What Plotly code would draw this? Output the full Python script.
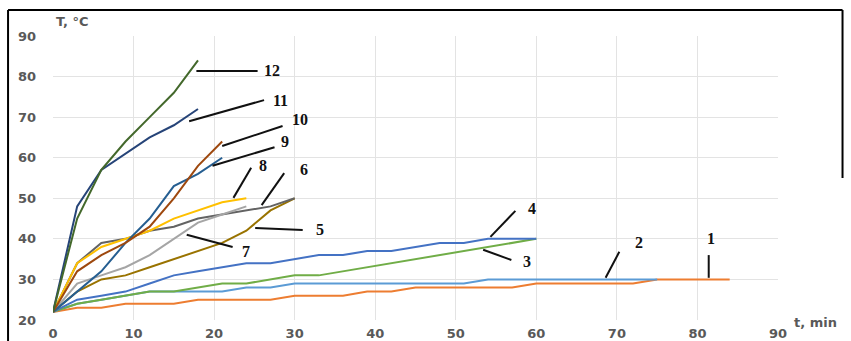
import plotly.graph_objects as go

# Heating curves: temperature T (°C) versus time t (min), readings every 3 minutes
series_names = ["1", "2", "3", "4", "5", "6", "7", "8", "9", "10", "11", "12"]

t_1 = [0, 3, 6, 9, 12, 15, 18, 21, 24, 27, 30, 33, 36, 39, 42, 45, 48, 51, 54, 57, 60, 63, 66, 69, 72, 75, 78, 81, 84]
T_1 = [22, 23, 23, 24, 24, 24, 25, 25, 25, 25, 26, 26, 26, 27, 27, 28, 28, 28, 28, 28, 29, 29, 29, 29, 29, 30, 30, 30, 30]

t_2 = [0, 3, 6, 9, 12, 15, 18, 21, 24, 27, 30, 33, 36, 39, 42, 45, 48, 51, 54, 57, 60, 63, 66, 69, 72, 75]
T_2 = [22, 24, 25, 26, 27, 27, 27, 27, 28, 28, 29, 29, 29, 29, 29, 29, 29, 29, 30, 30, 30, 30, 30, 30, 30, 30]

t_3 = [0, 3, 6, 9, 12, 15, 18, 21, 24, 27, 30, 33, 36, 39, 42, 45, 48, 51, 54, 57, 60]
T_3 = [22, 24, 25, 26, 27, 27, 28, 29, 29, 30, 31, 31, 32, 33, 34, 35, 36, 37, 38, 39, 40]

t_4 = [0, 3, 6, 9, 12, 15, 18, 21, 24, 27, 30, 33, 36, 39, 42, 45, 48, 51, 54, 57, 60]
T_4 = [22, 25, 26, 27, 29, 31, 32, 33, 34, 34, 35, 36, 36, 37, 37, 38, 39, 39, 40, 40, 40]

t_5 = [0, 3, 6, 9, 12, 15, 18, 21, 24, 27, 30]
T_5 = [22, 27, 30, 31, 33, 35, 37, 39, 42, 47, 50]

t_6 = [0, 3, 6, 9, 12, 15, 18, 21, 24, 27, 30]
T_6 = [22, 34, 39, 40, 42, 43, 45, 46, 47, 48, 50]

t_7 = [0, 3, 6, 9, 12, 15, 18, 21, 24]
T_7 = [22, 29, 31, 33, 36, 40, 44, 46, 48]

t_8 = [0, 3, 6, 9, 12, 15, 18, 21, 24]
T_8 = [22, 34, 38, 40, 42, 45, 47, 49, 50]

t_9 = [0, 3, 6, 9, 12, 15, 18, 21]
T_9 = [22, 27, 32, 39, 45, 53, 56, 60]

t_10 = [0, 3, 6, 9, 12, 15, 18, 21]
T_10 = [22, 32, 36, 39, 43, 50, 58, 64]

t_11 = [0, 3, 6, 9, 12, 15, 18]
T_11 = [22, 48, 57, 61, 65, 68, 72]

t_12 = [0, 3, 6, 9, 12, 15, 18]
T_12 = [22, 45, 57, 64, 70, 76, 84]

series_t = [t_1, t_2, t_3, t_4, t_5, t_6, t_7, t_8, t_9, t_10, t_11, t_12]
series_T = [T_1, T_2, T_3, T_4, T_5, T_6, T_7, T_8, T_9, T_10, T_11, T_12]
series_colors = ["#ED7D31", "#5B9BD5", "#70AD47", "#4472C4", "#997300", "#636363",
                 "#A5A5A5", "#FFC000", "#255E91", "#9E480E", "#264478", "#43682B"]

x_ticks = [0, 10, 20, 30, 40, 50, 60, 70, 80, 90]
y_ticks = [20, 30, 40, 50, 60, 70, 80, 90]

# Curve number labels: leader line start, leader line end, text position (data units)
label_lines = {
    "12": ((17.8, 81.4), (25.4, 81.4), (27.2, 81.6)),
    "11": ((16.9, 69.0), (26.2, 74.2), (28.3, 74.2)),
    "10": ((21.0, 62.9), (28.5, 67.8), (30.7, 69.3)),
    "9": ((19.8, 58.0), (27.5, 62.6), (28.8, 64.1)),
    "8": ((22.4, 50.1), (24.6, 57.5), (26.1, 58.2)),
    "6": ((25.9, 48.3), (28.7, 56.2), (31.1, 57.0)),
    "5": ((25.1, 42.7), (31.0, 42.2), (33.2, 42.2)),
    "7": ((16.6, 41.0), (22.3, 38.0), (24.0, 37.0)),
    "4": ((54.3, 40.5), (57.4, 46.9), (59.4, 47.6)),
    "3": ((53.4, 37.3), (56.9, 34.8), (58.8, 34.5)),
    "2": ((68.6, 30.4), (70.3, 36.8), (72.7, 39.2)),
    "1": ((81.4, 30.4), (81.4, 36.0), (81.7, 40.0)),
}

fig = go.Figure()
for name, tv, Tv, col in zip(series_names, series_t, series_T, series_colors):
    fig.add_trace(go.Scatter(x=tv, y=Tv, mode="lines", name=name,
                             line=dict(color=col, width=2), showlegend=False))

shapes = []
annotations = []
for name, (p0, p1, ptxt) in label_lines.items():
    shapes.append(dict(type="line", xref="x", yref="y", x0=p0[0], y0=p0[1], x1=p1[0], y1=p1[1],
                       line=dict(color="#111111", width=2)))
    annotations.append(dict(x=ptxt[0], y=ptxt[1], xref="x", yref="y", text="<b>%s</b>" % name,
                            showarrow=False, xanchor="center", yanchor="middle",
                            font=dict(family="Liberation Serif", size=16, color="#111111")))

# Outer frame around the chart
shapes.append(dict(type="line", xref="paper", yref="paper", x0=-0.062, x1=-0.062, y0=-0.2, y1=1.0915,
                   line=dict(color="#000000", width=2)))
shapes.append(dict(type="line", xref="paper", yref="paper", x0=-0.062, x1=1.089, y0=1.0915, y1=1.0915,
                   line=dict(color="#000000", width=2)))
shapes.append(dict(type="line", xref="paper", yref="paper", x0=1.089, x1=1.089, y0=0.5, y1=1.0915,
                   line=dict(color="#000000", width=2)))

# Axis captions
annotations.append(dict(x=0.002, y=1.05, xref="paper", yref="paper", text="<b>T, °C</b>", showarrow=False,
                        xanchor="left", yanchor="middle",
                        font=dict(family="DejaVu Sans", size=13, color="#595959")))
annotations.append(dict(x=1.019, y=-0.01, xref="paper", yref="paper", text="<b>t, min</b>", showarrow=False,
                        xanchor="left", yanchor="middle",
                        font=dict(family="DejaVu Sans", size=13, color="#595959")))

fig.update_layout(
    width=851, height=341,
    margin=dict(l=53, r=73, t=36, b=21, autoexpand=False),
    paper_bgcolor="white", plot_bgcolor="white",
    shapes=shapes, annotations=annotations,
    xaxis=dict(range=[0, 90], tickvals=x_ticks, ticktext=["<b>%d</b>" % v for v in x_ticks],
               showgrid=True, gridcolor="#E3E3E3", gridwidth=1, zeroline=False, showline=False,
               tickfont=dict(family="DejaVu Sans", size=13, color="#595959"), ticks="",
               ticklabelstandoff=4),
    yaxis=dict(range=[20, 90], tickvals=y_ticks, ticktext=["<b>%d</b>" % v for v in y_ticks],
               showgrid=True, gridcolor="#E3E3E3", gridwidth=1, zeroline=False, showline=False,
               tickfont=dict(family="DejaVu Sans", size=13, color="#595959"), ticks="",
               ticklabelstandoff=16),
)

fig.write_html("out.html")
